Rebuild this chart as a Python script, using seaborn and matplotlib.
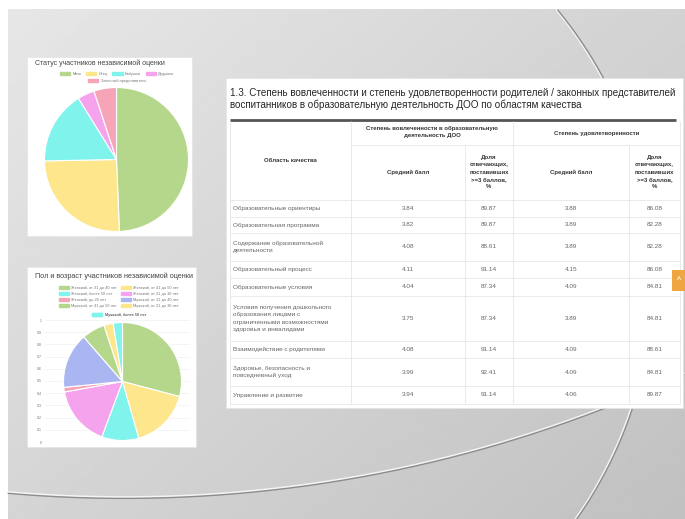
import numpy as np
import pandas as pd
import seaborn as sns
import matplotlib.pyplot as plt
from matplotlib.patches import Rectangle

# --- data ---
status_labels = ['Мать', 'Отец', 'Бабушка', 'Дедушка', 'Законный представитель']
status_counts = [39, 20, 13, 3, 4]
status_colors = ['#b5d78c', '#fde68b', '#80f3ec', '#f6a3ee', '#f5a5b7']

age_labels = ['Женский, от 31 до 40 лет', 'Женский, от 41 до 50 лет',
              'Женский, более 50 лет', 'Женский, от 21 до 30 лет',
              'Женский, до 20 лет', 'Мужской, от 31 до 40 лет',
              'Мужской, от 41 до 50 лет', 'Мужской, от 21 до 30 лет',
              'Мужской, более 50 лет']
age_counts = [23, 13, 8, 13, 1, 12, 5, 2, 2]
age_colors = ['#b5d78c', '#fde68b', '#80f3ec', '#f6a3ee', '#f5a5b7',
              '#a9b6f2', '#b5d78c', '#fde68b', '#80f3ec']
age_ticks = [0, 0.1, 0.2, 0.3, 0.4, 0.5, 0.6, 0.7, 0.8, 0.9, 1]

areas = ['Образовательные ориентиры',
         'Образовательная программа',
         'Содержание образовательной\nдеятельности',
         'Образовательный процесс',
         'Образовательные условия',
         'Условия получения дошкольного\nобразования лицами с\nограниченными возможностями\nздоровья и инвалидами',
         'Взаимодействие с родителями',
         'Здоровье, безопасность и\nповседневный уход',
         'Управление и развитие']
inv_score = [3.84, 3.82, 4.08, 4.11, 4.04, 3.75, 4.08, 3.99, 3.94]
inv_share = [89.87, 89.87, 88.61, 91.14, 87.34, 87.34, 91.14, 92.41, 91.14]
sat_score = [3.88, 3.89, 3.89, 4.15, 4.09, 3.89, 4.09, 4.09, 4.06]
sat_share = [86.08, 82.28, 82.28, 86.08, 84.81, 84.81, 88.61, 84.81, 89.87]

table = pd.DataFrame({'area': areas, 'inv_score': inv_score, 'inv_share': inv_share,
                      'sat_score': sat_score, 'sat_share': sat_share})

title_text = ('1.3. Степень вовлеченности и степень удовлетворенности родителей / законных представителей\n'
              'воспитанников в образовательную деятельность ДОО по областям качества')
share_head = 'Доля\nотвечающих,\nпоставивших\n>=3 баллов,\n%'

# --- layout (pixels) ---
W, H = 685, 519
row_edges = [200, 217, 233, 261, 278, 296, 341, 358, 386, 404]
col_edges = [230, 351, 465, 513, 629, 680]

sns.set_style('white')
plt.rcParams['font.family'] = ['Liberation Sans', 'DejaVu Sans']

fig = plt.figure(figsize=(W / 100, H / 100), dpi=100, facecolor='white')


def frac(x0, y0, x1, y1):
    return [x0 / W, 1 - y1 / H, (x1 - x0) / W, (y1 - y0) / H]


bg = fig.add_axes([0, 0, 1, 1])
bg.set_xlim(0, W)
bg.set_ylim(H, 0)
bg.axis('off')

# slide background
X, Y = np.meshgrid(np.linspace(0, 1, 200), np.linspace(0, 1, 200))
grad = 0.905 - 0.08 * X - 0.07 * Y
bg.imshow(grad, extent=(8, W, H, 9), cmap='gray', vmin=0, vmax=1, aspect='auto', zorder=0)

t = np.linspace(-1.2, 1.2, 400)
ax_, ay_ = 233 + 420 * np.cos(t), 277 + 420 * np.sin(t)
m = (ay_ > 9) & (ax_ > 8)
bg.plot(ax_[m] - 0.8, ay_[m], color='#f4f4f4', lw=1.4, zorder=1)
bg.plot(ax_[m] + 0.5, ay_[m], color='#8c8c8c', lw=1.0, zorder=1)
t2 = np.linspace(1.1, np.pi / 2 + 0.2, 400)
bx_, by_ = 124 + 1327 * np.cos(t2), -829 + 1327 * np.sin(t2)
m2 = (bx_ > 8) & (bx_ < W)
bg.plot(bx_[m2], by_[m2] - 0.9, color='#f4f4f4', lw=1.4, zorder=1)
bg.plot(bx_[m2], by_[m2] + 0.4, color='#8c8c8c', lw=1.0, zorder=1)

# white panels
for x0, y0, x1, y1 in [(27, 57, 192, 236), (27, 267, 196, 447), (226, 78, 683, 408)]:
    bg.add_patch(Rectangle((x0, y0), x1 - x0, y1 - y0, facecolor='white',
                           edgecolor='#e4e4e4', lw=0.5, zorder=2))

# ---- pie 1 ----
bg.text(35, 63, 'Статус участников независимой оценки', fontsize=5, color='#444',
        va='center', zorder=3)
h1 = [Rectangle((0, 0), 1, 1, facecolor=c, edgecolor=c) for c in status_colors]
leg = bg.legend(h1[:4], status_labels[:4], loc='center', bbox_to_anchor=(117, 74),
                bbox_transform=bg.transData, ncol=4, fontsize=2.8, frameon=False,
                handlelength=2.6, handleheight=0.9, columnspacing=1.2, handletextpad=0.6,
                borderpad=0, labelcolor='#777')
bg.add_artist(leg)
leg = bg.legend(h1[4:], status_labels[4:], loc='center', bbox_to_anchor=(117, 81),
                bbox_transform=bg.transData, ncol=1, fontsize=2.8, frameon=False,
                handlelength=2.6, handleheight=0.9, handletextpad=0.6, borderpad=0,
                labelcolor='#777')
bg.add_artist(leg)

ax1 = fig.add_axes(frac(44.5, 87.5, 188.5, 231.5))
ax1.pie(status_counts, colors=status_colors, startangle=90, counterclock=False,
        wedgeprops=dict(edgecolor='white', linewidth=0.8))
ax1.set_xlim(-1, 1)
ax1.set_ylim(-1, 1)

# ---- pie 2 ----
bg.text(35, 276, 'Пол и возраст участников независимой оценки', fontsize=5.2, color='#444',
        va='center', zorder=3)
h2 = [Rectangle((0, 0), 1, 1, facecolor=c, edgecolor=c) for c in age_colors]
order = [0, 2, 4, 6, 1, 3, 5, 7]  # legend fills by column; this gives row order
leg = bg.legend([h2[i] for i in order], [age_labels[i] for i in order],
                loc='upper center', bbox_to_anchor=(119, 284),
                bbox_transform=bg.transData, ncol=2, fontsize=2.8, frameon=False,
                handlelength=2.6, handleheight=0.9, columnspacing=1.0, handletextpad=0.6,
                labelspacing=0.5, borderpad=0, labelcolor='#777')
bg.add_artist(leg)
leg = bg.legend(h2[8:], age_labels[8:], loc='center', bbox_to_anchor=(119, 315),
                bbox_transform=bg.transData, ncol=1, fontsize=2.8, frameon=False,
                handlelength=2.6, handleheight=0.9, handletextpad=0.6, borderpad=0,
                labelcolor='#777')
bg.add_artist(leg)

axg = fig.add_axes(frac(45, 320, 190, 442))
axg.set_ylim(0, 1)
axg.set_xlim(0, 1)
axg.set_yticks(age_ticks)
axg.set_yticklabels([f'{v:g}' for v in age_ticks], fontsize=2.6, color='#777')
axg.set_xticks([])
axg.tick_params(axis='y', length=0, pad=2)
axg.grid(axis='y', color='#f0f0f0', lw=0.5)
for s in axg.spines.values():
    s.set_visible(False)
axg.set_facecolor('none')

ax2 = fig.add_axes(frac(63.5, 322.5, 181.5, 440.5))
ax2.pie(age_counts, colors=age_colors, startangle=90, counterclock=False,
        wedgeprops=dict(edgecolor='white', linewidth=0.8))
ax2.set_xlim(-1, 1)
ax2.set_ylim(-1, 1)

# ---- table ----
bg.text(230, 99, title_text, fontsize=7.1, color='#262626', va='center', linespacing=1.25, zorder=3)
bg.plot([230, 676], [119.5, 119.5], color='#555', lw=2, zorder=3, solid_capstyle='butt')

gl = dict(color='#e2e2e2', lw=0.5, zorder=3)
bg.hlines(row_edges, col_edges[0], col_edges[-1], **gl)
bg.hlines([145], col_edges[1], col_edges[-1], **gl)
bg.vlines([col_edges[1], col_edges[3]], 121, row_edges[-1], **gl)
bg.vlines([col_edges[2], col_edges[4]], 145, row_edges[-1], **gl)
bg.vlines([col_edges[0], col_edges[-1]], 121, row_edges[-1], **gl)

hd = dict(fontsize=4.3, color='#333', ha='center', va='center', fontweight='bold', zorder=4)
bg.text(290, 160, 'Область качества', **hd)
bg.text(432, 132, 'Степень вовлеченности в образовательную\nдеятельность ДОО', linespacing=1.6, **hd)
bg.text(597, 133, 'Степень удовлетворенности', **hd)
for cx0, cx1 in [(col_edges[1], col_edges[2]), (col_edges[3], col_edges[4])]:
    bg.text((cx0 + cx1) / 2, 172, 'Средний балл', **hd)
for cx0, cx1 in [(col_edges[2], col_edges[3]), (col_edges[4], col_edges[5])]:
    bg.text((cx0 + cx1) / 2, 172, share_head, linespacing=1.6, **hd)

centers = [(a + b) / 2 for a, b in zip(row_edges[:-1], row_edges[1:])]
cell = dict(fontsize=4.6, color='#666', va='center', zorder=4)
num_cols = ['inv_score', 'inv_share', 'sat_score', 'sat_share']
for yc, (_, r) in zip(centers, table.iterrows()):
    bg.text(233, yc, r['area'], linespacing=1.55, **cell)
    for j, c in enumerate(num_cols):
        xc = (col_edges[j + 1] + col_edges[j + 2]) / 2
        bg.text(xc, yc, f'{r[c]:.2f}', ha='center', **cell)

# scroll-to-top button
bg.add_patch(Rectangle((672, 270), 13, 21, facecolor='#f0a640', edgecolor='none', zorder=5))
bg.text(678.5, 280, '^', fontsize=5, color='white', ha='center', va='center',
        fontweight='bold', zorder=6)

fig.savefig('out.png', dpi=100, facecolor='white')
